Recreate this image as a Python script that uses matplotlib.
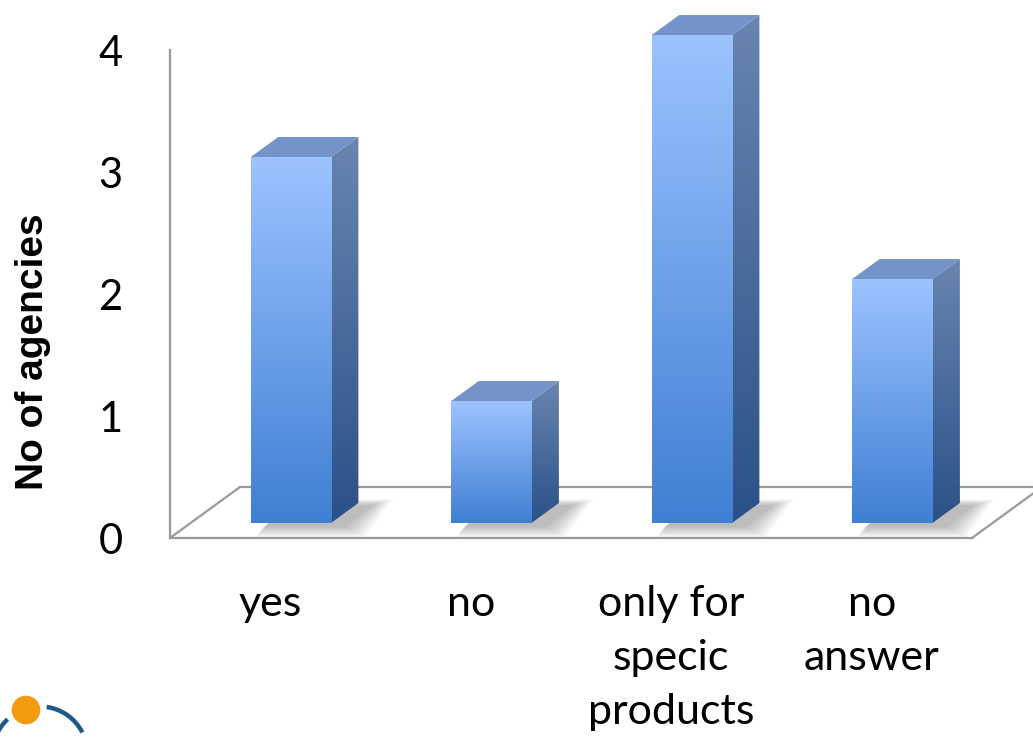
import numpy as np
import matplotlib
matplotlib.use("Agg")
import matplotlib.pyplot as plt
from matplotlib.patches import Polygon, Circle, Arc
from matplotlib.colors import LinearSegmentedColormap

# ---------------- data ----------------
categories = ["yes", "no", "only for\nspecic\nproducts", "no\nanswer"]
values = [3, 1, 4, 2]
yticks = [0, 1, 2, 3, 4]
ylabel = "No of agencies"

# ---------------- figure ----------------
W, H = 1033, 739
fig = plt.figure(figsize=(W / 100, H / 100), dpi=100)
ax_l, ax_b, ax_w, ax_h = 170, 538, 802, 488   # pixel geometry of the front plane
ax = fig.add_axes([ax_l / W, 1 - ax_b / H, ax_w / W, ax_h / H])
xmin, xmax, ymin, ymax = -0.5, 3.5, 0, 4

ux = (xmax - xmin) / ax_w
uy = (ymax - ymin) / ax_h
floor_dx, floor_dy = 70 * ux, 51 * uy     # depth of the 3D floor
f_front, f_back = 15 / 51, 35 / 51        # bar front/back depth fractions
bw = 0.4

grey = "#9a9a9a"
front_cmap = LinearSegmentedColormap.from_list("front", ["#3f7fd3", "#9cc3ff"])
side_cmap = LinearSegmentedColormap.from_list("side", ["#2a5188", "#6985b0"])
top_color = "#7393c9"

# floor (back and right edges)
ax.plot([xmin, xmin + floor_dx], [0, floor_dy], color=grey, lw=1.6, clip_on=False, zorder=1,
        solid_capstyle="butt")
ax.plot([xmin + floor_dx, xmax + floor_dx + 0.5], [floor_dy, floor_dy], color=grey, lw=1.6,
        clip_on=False, zorder=1)
ax.plot([xmax, xmax + floor_dx], [0, floor_dy], color=grey, lw=1.6, clip_on=False, zorder=1)

grad = np.linspace(0, 1, 256).reshape(-1, 1)

for i, v in enumerate(values):
    ox, oy = f_front * floor_dx, f_front * floor_dy
    ddx, ddy = (f_back - f_front) * floor_dx, (f_back - f_front) * floor_dy
    x0 = i - bw / 2 + ox
    x1 = i + bw / 2 + ox
    y0 = oy
    top = v + oy

    # soft blurred shadow of the bar footprint on the floor
    sx, sy = 12 * ux, -3 * uy
    for k in range(10, 0, -1):
        g = k * 2.2
        gx, gy = g * ux, g * uy
        sh = Polygon([(x0 + sx - gx * 0.3, y0 + sy - gy * 0.5),
                      (x1 + sx + gx, y0 + sy - gy * 0.5),
                      (x1 + ddx + sx + gx, y0 + ddy + sy + gy * 0.3),
                      (x0 + ddx + sx, y0 + ddy + sy + gy * 0.3)],
                     closed=True, facecolor="#000000", alpha=0.026, edgecolor="none",
                     zorder=2, clip_on=False)
        ax.add_patch(sh)

    # front face
    ax.imshow(grad, extent=[x0, x1, y0, top], origin="lower", cmap=front_cmap,
              aspect="auto", zorder=4, clip_on=False, interpolation="bilinear")
    # side face
    side = Polygon([(x1, y0), (x1 + ddx, y0 + ddy), (x1 + ddx, top + ddy), (x1, top)],
                   closed=True, facecolor="none", edgecolor="none", transform=ax.transData)
    ax.add_patch(side)
    im = ax.imshow(grad, extent=[x1, x1 + ddx, y0, top + ddy], origin="lower",
                   cmap=side_cmap, aspect="auto", zorder=3, interpolation="bilinear")
    im.set_clip_box(fig.bbox)
    im.set_clip_path(side)
    # top face
    ax.add_patch(Polygon([(x0, top), (x1, top), (x1 + ddx, top + ddy), (x0 + ddx, top + ddy)],
                         closed=True, facecolor=top_color, edgecolor="none", zorder=5,
                         clip_on=False))

ax.set_xlim(xmin, xmax)
ax.set_ylim(ymin, ymax)
ax.set_aspect("auto")
ax.set_facecolor("none")

for sp in ["top", "right"]:
    ax.spines[sp].set_visible(False)
for sp in ["left", "bottom"]:
    ax.spines[sp].set_color(grey)
    ax.spines[sp].set_linewidth(1.6)
    ax.spines[sp].set_zorder(1)

ax.set_yticks(yticks)
ax.set_yticklabels([str(t) for t in yticks], fontsize=30, family="Lato")
ax.set_xticks(range(len(categories)))
ax.set_xticklabels(categories, fontsize=31, family="Lato", linespacing=1.52)
ax.tick_params(axis="y", length=0, pad=34)
ax.tick_params(axis="x", length=0, pad=34)

fig.text(33 / W, 1 - 352 / H, ylabel, rotation=90, ha="center", va="center",
         fontsize=28, fontweight="bold", family="Liberation Sans")

# partial logo in the lower-left corner
lax = fig.add_axes([0, 0, 1, 1], zorder=-1)
lax.set_xlim(0, W)
lax.set_ylim(H, 0)
lax.axis("off")
lax.add_patch(Arc((40, 754), 95, 95, theta1=-178, theta2=-133, color="#1d5a86", lw=3.2))
lax.add_patch(Arc((40, 754), 95, 95, theta1=-82, theta2=-27, color="#1d5a86", lw=3.2))
lax.add_patch(Circle((26, 710), 14.3, color="#f39a10", lw=0))

fig.savefig("out.png", dpi=100)
